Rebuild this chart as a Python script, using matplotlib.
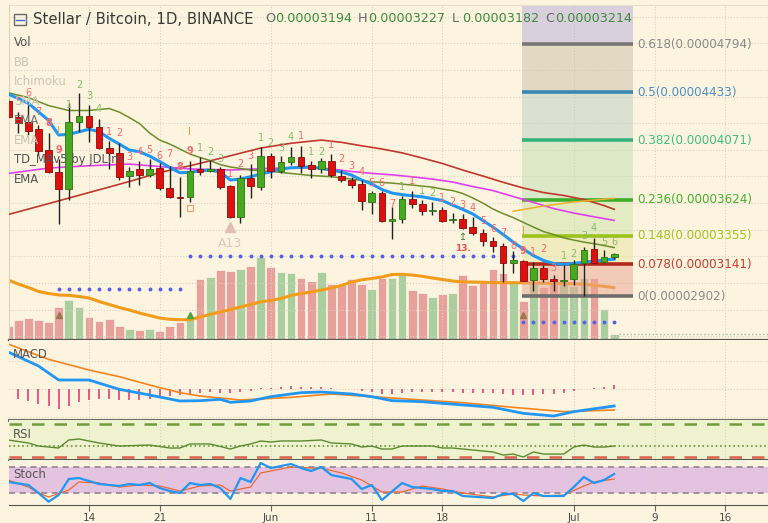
import matplotlib
matplotlib.use('Agg')
import matplotlib.pyplot as plt
from matplotlib.patches import Rectangle
from matplotlib.lines import Line2D

plt.rcParams['font.family'] = 'DejaVu Sans'

W, H = 768, 523
BG = '#fdf4df'

# day index: 0 = 14 May
days = list(range(-8, 53))
opens = [4366, 4248, 4211, 4154, 3998, 3835, 3703, 4208, 4253, 4169,
         4015, 3973, 3803, 3853, 3808, 3861, 3715, 3648, 3643, 3853,
         3838, 3853, 3728, 3497, 3790, 3723, 3953, 3843, 3906, 3943,
         3886, 3858, 3913, 3805, 3773, 3741, 3610, 3678, 3473, 3478,
         3630, 3590, 3543, 3548, 3476, 3480, 3418, 3373, 3317, 3277,
         3148, 3165, 3022, 3110, 3030, 3020, 3027, 3148, 3253, 3160, 3194]
highs = [4389, 4286, 4336, 4186, 4128, 3928, 4349, 4424, 4336, 4229,
         4068, 4048, 3868, 3918, 3928, 3898, 3878, 3793, 3918, 3943,
         3923, 3873, 3738, 3810, 3893, 4018, 3978, 3953, 4023, 4028,
         3916, 3936, 3968, 3848, 3798, 3773, 3693, 3693, 3568, 3653,
         3690, 3623, 3610, 3568, 3523, 3515, 3493, 3403, 3347, 3302,
         3242, 3172, 3160, 3135, 3060, 3135, 3172, 3268, 3335, 3247, 3227]
lows = [4238, 4126, 4111, 3961, 3825, 3443, 3623, 4136, 4060, 4003,
        3853, 3773, 3723, 3735, 3796, 3698, 3638, 3497, 3610, 3810,
        3833, 3703, 3485, 3452, 3636, 3698, 3786, 3823, 3886, 3823,
        3786, 3828, 3793, 3760, 3711, 3548, 3515, 3460, 3328, 3448,
        3565, 3510, 3510, 3458, 3452, 3403, 3360, 3277, 3235, 3009,
        3077, 3017, 2940, 3009, 2940, 2977, 2985, 2902, 3148, 3152, 3182]
closes = [4246, 4203, 4143, 3991, 3831, 3703, 4211, 4253, 4169, 4011,
          3973, 3793, 3841, 3808, 3853, 3711, 3643, 3638, 3841, 3835,
          3853, 3723, 3497, 3790, 3730, 3953, 3843, 3906, 3943, 3880,
          3853, 3913, 3808, 3773, 3738, 3615, 3678, 3467, 3480, 3630,
          3590, 3542, 3549, 3465, 3480, 3415, 3373, 3315, 3277, 3148,
          3172, 3017, 3110, 3027, 3017, 3024, 3142, 3247, 3152, 3197, 3214]
volumes = [1.4, 2.0, 2.2, 2.0, 1.8, 3.3, 4.0, 3.3, 2.3, 1.9,
           2.1, 1.4, 1.1, 1.0, 1.1, 0.9, 1.4, 1.8, 2.3, 6.1,
           6.3, 7.0, 6.9, 7.1, 7.4, 8.3, 7.3, 6.8, 6.7, 6.2,
           5.9, 6.8, 5.6, 5.5, 6.1, 5.6, 5.1, 6.2, 6.2, 6.6,
           5.0, 4.7, 4.3, 4.6, 4.7, 6.5, 5.5, 6.0, 7.1, 6.7,
           5.7, 3.9, 5.9, 5.3, 5.9, 5.9, 5.4, 6.2, 6.2, 3.1, 0.6]
vol_ma = [6.0, 5.6, 5.25, 4.85, 4.65, 4.5, 4.47, 4.35, 4.2, 3.85,
          3.55, 3.25, 3.0, 2.7, 2.45, 2.2, 2.07, 2.03, 2.03, 2.3,
          2.57, 2.8, 3.05, 3.3, 3.55, 3.82, 3.95, 4.15, 4.45, 4.65,
          4.8, 5.0, 5.2, 5.45, 5.8, 6.02, 6.15, 6.3, 6.55, 6.57,
          6.5, 6.37, 6.2, 6.05, 5.9, 5.8, 5.8, 5.77, 5.73, 5.73,
          5.73, 5.72, 5.7, 5.68, 5.66, 5.64, 5.62, 5.57, 5.47, 5.37, 5.23]

# moving averages (price in satoshi)
ema_blue_days = [-8, -6, -4, -3, -2, 0, 1, 2, 3, 4, 5, 6, 7, 8, 9, 10, 11, 12, 13, 14,
                 15, 16, 17, 18, 19, 20, 22, 24, 25, 26, 27, 28, 29, 30, 31, 33, 35, 36, 37, 38,
                 39, 40, 41, 42, 43, 44, 45, 46, 47, 48, 49, 50, 51, 52]
ema_blue = [4419, 4349, 4221, 4111, 4116, 4154, 4136, 4086, 4043, 3998, 3985, 3953, 3912, 3867, 3828,
            3830, 3843, 3848, 3833, 3773, 3780, 3798, 3818, 3835, 3856, 3865, 3871, 3848, 3833, 3810,
            3773, 3743, 3702, 3675, 3663, 3647, 3619, 3585, 3553, 3518, 3469, 3420, 3364, 3307, 3255,
            3206, 3169, 3146, 3140, 3146, 3156, 3165, 3172, 3180]
ema_olive_days = [-8, -6, -4, -2, 0, 2, 3, 4, 5, 6, 7, 8, 9, 10, 11, 12, 13, 14, 16, 18,
                  20, 22, 24, 26, 28, 30, 32, 34, 35, 36, 37, 38, 39, 40, 41, 42, 43, 44, 45, 46,
                  47, 48, 49, 50, 51, 52]
ema_olive = [4428, 4392, 4332, 4295, 4295, 4310, 4283, 4242, 4197, 4126, 4073, 4043, 4006, 3968, 3942,
             3919, 3889, 3871, 3848, 3838, 3822, 3807, 3798, 3780, 3760, 3750, 3735, 3720, 3705, 3694,
             3672, 3638, 3600, 3555, 3521, 3491, 3455, 3420, 3386, 3364, 3339, 3322, 3307, 3295, 3281, 3266]
ema_magenta_days = [-8, -4, 0, 4, 7, 10, 14, 18, 22, 24, 26, 28, 30, 32, 34, 36, 38, 40, 42, 44, 46, 48, 50, 52]
ema_magenta = [3822, 3863, 3880, 3893, 3874, 3856, 3848, 3861, 3865, 3856, 3837, 3823, 3812, 3797,
               3780, 3758, 3724, 3694, 3649, 3605, 3559, 3525, 3497, 3470]
ema_red_days = [-8, -4, 0, 4, 7, 10, 13, 17, 20, 23, 25, 27, 29, 31, 33, 35, 37, 39, 41, 43, 45, 47, 49, 51, 52]
ema_red = [3514, 3596, 3679, 3762, 3829, 3880, 3936, 4013, 4049, 4073, 4056, 4030, 4006, 3977, 3938,
           3897, 3848, 3803, 3756, 3713, 3679, 3657, 3627, 3581, 3553]
line_orange_days = [42, 45, 48, 52]
line_orange = [3538, 3578, 3608, 3636]

# fibonacci retracement
fib_ratios = ['0.618', '0.5', '0.382', '0.236', '0.148', '0.078', '0']
fib_prices = [4794, 4433, 4071, 3624, 3355, 3141, 2902]
fib_line_colors = ['#767676', '#3a86b4', '#36b27a', '#3fae28', '#9cc21c', '#b3291c', '#6e6e6e']
fib_text_colors = ['#8a8a8a', '#4a90c2', '#3fbf82', '#46ae2e', '#a2c224', '#c63c2c', '#8c8c8c']
# zones from the top edge down to 0
fib_fill_colors = ['#b8acdc', '#cbbfa8', '#bccdc4', '#bde0b4', '#cde3a6', '#e6e4a2', '#e8a38e']

# TD sequential counts
td_days = [-7, -6, -5, -4, -3, -2, -1, 0, 1, 2, 3, 4, 5, 6, 7, 8, 9, 10, 11, 12,
           13, 14, 15, 16, 17, 18, 19, 20, 21, 22, 23, 24, 25, 26, 27, 28, 29, 30, 31, 32,
           33, 34, 35, 36, 37, 38, 39, 40, 41, 42, 43, 44, 45, 46, 47, 48, 49, 50, 51, 52]
td_text = ['5', '6', '7', '8', '9', '1', '2', '3', '4', '1', '2', '3', '4', '5', '6', '7', '8', '9', '1', '2',
           '3', '1', '2', '3', '1', '2', '3', '4', '1', '1', '2', '1', '2', '3', '4', '5', '6', '7', '1', '1',
           '1', '2', '1', '2', '3', '4', '5', '6', '7', '8', '9', '1', '2', '3', '1', '2', '3', '4', '5', '6']
td_price = [4361, 4428, 4283, 4199, 3998, 4336, 4486, 4404, 4306, 4136, 4128, 3943, 3985, 3998, 3953,
            3968, 3868, 3993, 4011, 3985, 3928, 3816, 3893, 3953, 4086, 4048, 4015, 4094, 4103, 3985,
            3981, 4036, 3928, 3880, 3835, 3753, 3753, 3593, 3723, 3768, 3690, 3678, 3636, 3610, 3585,
            3560, 3465, 3405, 3373, 3277, 3242, 3235, 3253, 3114, 3202, 3217, 3352, 3410, 3310, 3310]
td_side = 'rrrrr' + 'gggg' + 'rrrrrrrrr' + 'ggg' + 'rrr' + 'gggg' + 'r' + 'gg' + 'rrrrrrr' + 'g' + 'r' + 'gg' + 'rrrrrrrrrrrr' + 'gggggg'
td_bold_days = [-4, -3, 9, 10, 43]

tdst_lines = [(list(range(-3, 10)), 2952), (list(range(10, 43)), 3202), (list(range(43, 53)), 2709)]
orange_i = [(-3, 4141), (10, 4136), (43, 3390)]

# indicators
macd_days = [-8, -5, -3, 0, 3, 6, 9, 11, 13, 14, 16, 18, 21, 23, 26, 28, 30, 33, 35, 40, 43, 46, 48, 52]
macd_line = [111, 69, 27, 27, -1, -18, -36, -35, -31, -40, -36, -23, -11, -9, -15, -23, -35, -38,
             -43, -55, -73, -81, -68, -51]
signal_days = [-8, -4, 0, 3, 6, 9, 11, 15, 20, 24, 28, 32, 37, 42, 47, 52]
signal_line = [135, 89, 57, 37, 12, -11, -21, -33, -25, -15, -23, -31, -41, -55, -68, -63]
hist_days = list(range(-7, 53))
hist_vals = [-30, -37, -44, -50, -59, -50, -40, -32, -30, -30, -32, -32, -32, -30, -27,
             -22, -17, -14, -12, -10, -12, -12, -8, -6, 2, 2, 6, 8, 6, 6,
             6, 3, 1, -1, -7, -10, -14, -14, -12, -9, -9, -10, -10, -10, -12,
             -12, -12, -12, -14, -17, -18, -17, -15, -14, -12, -7, 0, 2, 6, 11]

rsi_days = [-8, -6, -5, -3, -2, -1, 1, 3, 6, 8, 9, 10, 12, 14, 15, 16, 17, 18, 19, 21,
            23, 24, 26, 27, 28, 29, 30, 31, 34, 35, 36, 38, 40, 41, 42, 43, 44, 45, 47, 48,
            49, 50, 51, 52]
rsi_vals = [50.6, 47.0, 43.3, 40.9, 50.6, 51.8, 47.0, 43.3, 44.5, 40.9, 40.9, 45.8, 45.8, 39.7, 43.3,
            45.8, 49.4, 48.2, 49.4, 49.4, 50.6, 47.0, 45.8, 42.1, 43.3, 39.7, 39.7, 43.3, 43.3, 40.9,
            40.9, 38.5, 36.1, 32.4, 33.6, 30.0, 36.1, 33.6, 33.6, 42.1, 44.5, 42.1, 42.1, 43.3]

k_days = [-8, -6, -5, -4, -3, -2, -1, 1, 3, 4, 5, 6, 7, 8, 9, 10, 11, 12, 13, 14,
          15, 16, 17, 18, 20, 21, 22, 23, 24, 26, 27, 28, 29, 31, 32, 34, 35, 36, 37, 40,
          41, 42, 43, 44, 45, 47, 48, 49, 50, 51, 52]
stoch_k = [45.4, 38.5, 20.0, 0.0, 15.4, 52.3, 54.6, 40.8, 36.2, 40.8, 38.5, 43.1, 31.5, 24.6, 20.0,
           43.1, 38.5, 40.8, 31.5, 6.2, 54.6, 45.4, 89.2, 77.7, 86.9, 77.7, 70.8, 80.0, 61.5, 52.3,
           29.2, 38.5, 3.8, 43.1, 33.8, 29.2, 24.6, 24.6, 13.1, 8.5, 17.7, 17.7, 1.5, 20.0, 13.1,
           13.1, 33.8, 56.9, 43.1, 50.0, 63.8]
d_days = [-8, -6, -5, -4, -2, -1, 1, 3, 5, 7, 9, 11, 13, 14, 16, 17, 18, 20, 22, 23,
          25, 27, 28, 29, 31, 33, 35, 37, 40, 42, 43, 45, 47, 49, 50, 52]
stoch_d = [50.0, 33.8, 20.0, 10.8, 26.9, 45.4, 43.1, 33.8, 38.5, 36.2, 24.6, 36.2, 38.5, 24.6, 33.8,
           66.2, 70.8, 80.0, 77.7, 77.7, 66.2, 50.0, 36.2, 22.3, 22.3, 36.2, 29.2, 20.0, 10.8, 17.7,
           15.4, 13.1, 15.4, 36.2, 45.4, 52.3]

tick_days = [0, 7, 18, 28, 35, 48, 56, 63]
tick_labels = ['14', '21', 'Jun', '11', '18', 'Jul', '9', '16']

XMIN, XMAX = -7.92, 67.23
FIB_X0, FIB_X1 = 42.9, 53.9


def px_rect(l, t, r, b):
    return [l / W, 1 - b / H, (r - l) / W, (b - t) / H]


def fx(x):
    return x / W


def fy(y):
    return 1 - y / H


fig = plt.figure(figsize=(W / 100, H / 100), dpi=100, facecolor=BG)
ax = fig.add_axes(px_rect(9, 5, 768, 340))
ax_macd = fig.add_axes(px_rect(9, 340, 768, 420), sharex=ax)
ax_rsi = fig.add_axes(px_rect(9, 420, 768, 460), sharex=ax)
ax_st = fig.add_axes(px_rect(9, 460, 768, 505), sharex=ax)

for a in (ax, ax_macd, ax_rsi, ax_st):
    a.set_facecolor(BG)
    a.set_xlim(XMIN, XMAX)
    a.set_xticks(tick_days)
    a.tick_params(axis='y', left=False, labelleft=False)
    a.tick_params(axis='x', bottom=False, labelbottom=False)
    a.grid(axis='x', color='#d6d2c4', linestyle=':', linewidth=0.8)
    for s in ('top', 'right', 'left', 'bottom'):
        a.spines[s].set_visible(False)

# ---- main price panel ----
ax.set_ylim(2572, 5087)
ax.set_yticks(range(2600, 5001, 200))
ax.grid(axis='y', color='#d6d2c4', linestyle=':', linewidth=0.8)
ax.spines['left'].set_visible(True)
ax.spines['left'].set_color('#ddd3bc')
ax.spines['top'].set_visible(True)
ax.spines['top'].set_color('#e6dfcc')
ax.spines['bottom'].set_visible(True)
ax.spines['bottom'].set_color('#555555')
ax.spines['bottom'].set_linewidth(1.6)

vt = ax.get_xaxis_transform()
scale = 10 / 335.0
vol_cols = ['#a9cf9f' if c >= o else '#e8a19a' for o, c in zip(opens, closes)]
ax.bar(days, [v * scale for v in volumes], width=0.86, color=vol_cols, edgecolor='#fbeee0',
       linewidth=0.6, transform=vt, zorder=1)
ax.plot(days, [v * scale for v in vol_ma], color='#f39c1c', lw=2.2, transform=vt, zorder=2,
        solid_capstyle='round')
ax.plot([52.5, XMAX], [0.6 * scale, 0.6 * scale], color='#9cc49a', ls=':', lw=1, transform=vt, zorder=2)
for d, c in [(-3, '#9a7a4c'), (43, '#9a7a4c'), (10, '#45a845')]:
    ax.plot([d], [2.5 * scale], marker='^', ms=5, color=c, transform=vt, zorder=3)

# fib zones and lines
bounds = [5087] + fib_prices
for i in range(len(fib_prices)):
    ax.fill_between([FIB_X0, FIB_X1], bounds[i + 1], bounds[i], color=fib_fill_colors[i],
                    alpha=0.5, lw=0, zorder=2)
for r, p, lc, tc in zip(fib_ratios, fib_prices, fib_line_colors, fib_text_colors):
    ax.hlines(p, FIB_X0, FIB_X1, color=lc, lw=2.6, zorder=3)
    ax.text(FIB_X1 + 0.35, p, f"{r}({p / 1e8:.8f})", color=tc, fontsize=8.6, va='center',
            ha='left', zorder=6)

# moving averages
ax.plot(ema_red_days, ema_red, color='#c0392b', lw=1.2, zorder=4)
ax.plot(ema_magenta_days, ema_magenta, color='#e040f0', lw=1.2, zorder=4)
ax.plot(ema_olive_days, ema_olive, color='#6b8e2a', lw=1.1, zorder=4)
ax.plot(line_orange_days, line_orange, color='#f0b030', lw=1.1, zorder=4)
ax.plot(ema_blue_days, ema_blue, color='#2196f3', lw=2.2, zorder=4)

# TDST dotted levels
for dd, p in tdst_lines:
    ax.plot(dd, [p] * len(dd), ls='none', marker='o', ms=1.8, color='#5462ee', zorder=4)

# candles
for d, o, h, l, c in zip(days, opens, highs, lows, closes):
    up = c >= o
    body = '#45aa1f' if up else '#dd1010'
    edge = '#2f7015' if up else '#8a0c0c'
    ax.vlines(d, l, h, color='#222222', lw=1.0, zorder=5)
    lo, hi = min(o, c), max(o, c)
    ax.bar(d, max(hi - lo, 8), bottom=lo - (4 if hi - lo < 8 else 0), width=0.66, color=body,
           edgecolor=edge, linewidth=0.6, zorder=6)

# TD counts
for d, t, p, s in zip(td_days, td_text, td_price, td_side):
    col = '#f26a6a' if s == 'r' else '#86bd6a'
    w = 'bold' if d in td_bold_days else 'normal'
    ax.text(d, p, t, color=col, fontsize=7, ha='center', va='center', fontweight=w, zorder=7)
for d, p in orange_i:
    ax.text(d, p, 'I', color='#f39c35', fontsize=7.5, ha='center', va='center', zorder=7)
ax.plot([10], [3565], marker='s', ms=4, mfc='none', mec='#f0a070', mew=0.8, zorder=7)
ax.text(37, 3262, '13.', color='#f05050', fontsize=6.5, ha='center', va='center', fontweight='bold', zorder=7)
ax.text(37, 3347, '\u21a5', color='#2e8b2e', fontsize=7, ha='center', va='center', zorder=7)
ax.plot([14], [3418], marker='^', ms=7, color='#e2bdb2', zorder=7)
ax.text(14, 3298, 'A13', color='#e3c6bd', fontsize=9, ha='center', va='center', zorder=7)

# ---- MACD ----
ax_macd.set_ylim(-93, 147)
ax_macd.set_yticks([84, 0, -84])
ax_macd.grid(axis='y', color='#d6d2c4', linestyle=':', linewidth=0.8)
ax_macd.vlines(hist_days, 0, hist_vals, color='#e33f78', lw=1.2, zorder=2)
ax_macd.plot(signal_days, signal_line, color='#f5841f', lw=1.2, zorder=3)
ax_macd.plot(macd_days, macd_line, color='#2196f3', lw=2.0, zorder=4)
ax_macd.spines['bottom'].set_visible(True)
ax_macd.spines['bottom'].set_color('#6a6a6a')
ax_macd.spines['bottom'].set_linewidth(2.2)

# ---- RSI ----
ax_rsi.set_facecolor('#eff2cf')
ax_rsi.set_ylim(26.4, 74.8)
ax_rsi.axhline(70, color='#6e9e3c', lw=1.8, ls=(0, (5, 4)))
ax_rsi.axhline(30, color='#d8604c', lw=1.8, ls=(0, (5, 4)))
ax_rsi.axhline(43.3, color='#6e8f3a', lw=1.2, ls=':')
ax_rsi.plot(rsi_days, rsi_vals, color='#5d8b2e', lw=1.0)
ax_rsi.spines['bottom'].set_visible(True)
ax_rsi.spines['bottom'].set_color('#3a3a3a')
ax_rsi.spines['bottom'].set_linewidth(1.2)

# ---- Stoch ----
ax_st.set_ylim(-7.7, 96.2)
ax_st.axhspan(20, 80, color='#e3c3e0', lw=0)
ax_st.axhline(80, color='#8a7a8a', lw=1.1, ls=(0, (4, 3)))
ax_st.axhline(20, color='#8a7a8a', lw=1.1, ls=(0, (4, 3)))
ax_st.plot(d_days, stoch_d, color='#ec6a30', lw=0.9, zorder=3)
ax_st.plot(k_days, stoch_k, color='#2196f3', lw=1.6, zorder=4)
ax_st.spines['bottom'].set_visible(True)
ax_st.spines['bottom'].set_color('#555555')
ax_st.tick_params(axis='x', bottom=True, labelbottom=True, length=4, color='#666666',
                  labelsize=7.5, labelcolor='#4a4a4a', pad=2)
ax_st.set_xticklabels(tick_labels)

# ---- texts ----
fig.patches.append(Rectangle((fx(14), fy(25)), 12 / W, 11 / H, transform=fig.transFigure,
                             fill=False, ec='#6a6a6a', lw=1))
fig.lines.append(Line2D([fx(16), fx(24)], [fy(19.5), fy(19.5)], transform=fig.transFigure,
                       color='#3b6bd6', lw=1))
fig.text(fx(33), fy(19), 'Stellar / Bitcoin, 1D, BINANCE', fontsize=10.7, color='#3a3a3a', va='center')
ohlc = [('O', opens[-1], 265), ('H', highs[-1], 358), ('L', lows[-1], 452), ('C', closes[-1], 545)]
for lab, v, x in ohlc:
    fig.text(fx(x), fy(19), lab, fontsize=9.2, color='#666666', va='center')
    fig.text(fx(x + 10), fy(19), f"{v / 1e8:.8f}", fontsize=9.2, color='#3d8c3d', va='center')

legend_items = [('Vol', 43, '#555555'), ('BB', 62, '#cbc5b6'), ('Ichimoku', 82, '#cbc5b6'),
                ('SMA', 101, '#cbc5b6'), ('EMA', 121, '#707070'), ('EMA', 140, '#cbc5b6'),
                ('TD_MAv5 by JDLim', 159, '#555555'), ('EMA', 179, '#555555')]
for t, y, c in legend_items:
    fig.text(fx(14), fy(y), t, fontsize=8.4, color=c, va='center')

for t, y in [('MACD', 354), ('RSI', 435), ('Stoch', 475)]:
    fig.text(fx(13), fy(y), t, fontsize=8.4, color='#555555', va='center')

fig.savefig('out.png', dpi=100, facecolor=BG)
